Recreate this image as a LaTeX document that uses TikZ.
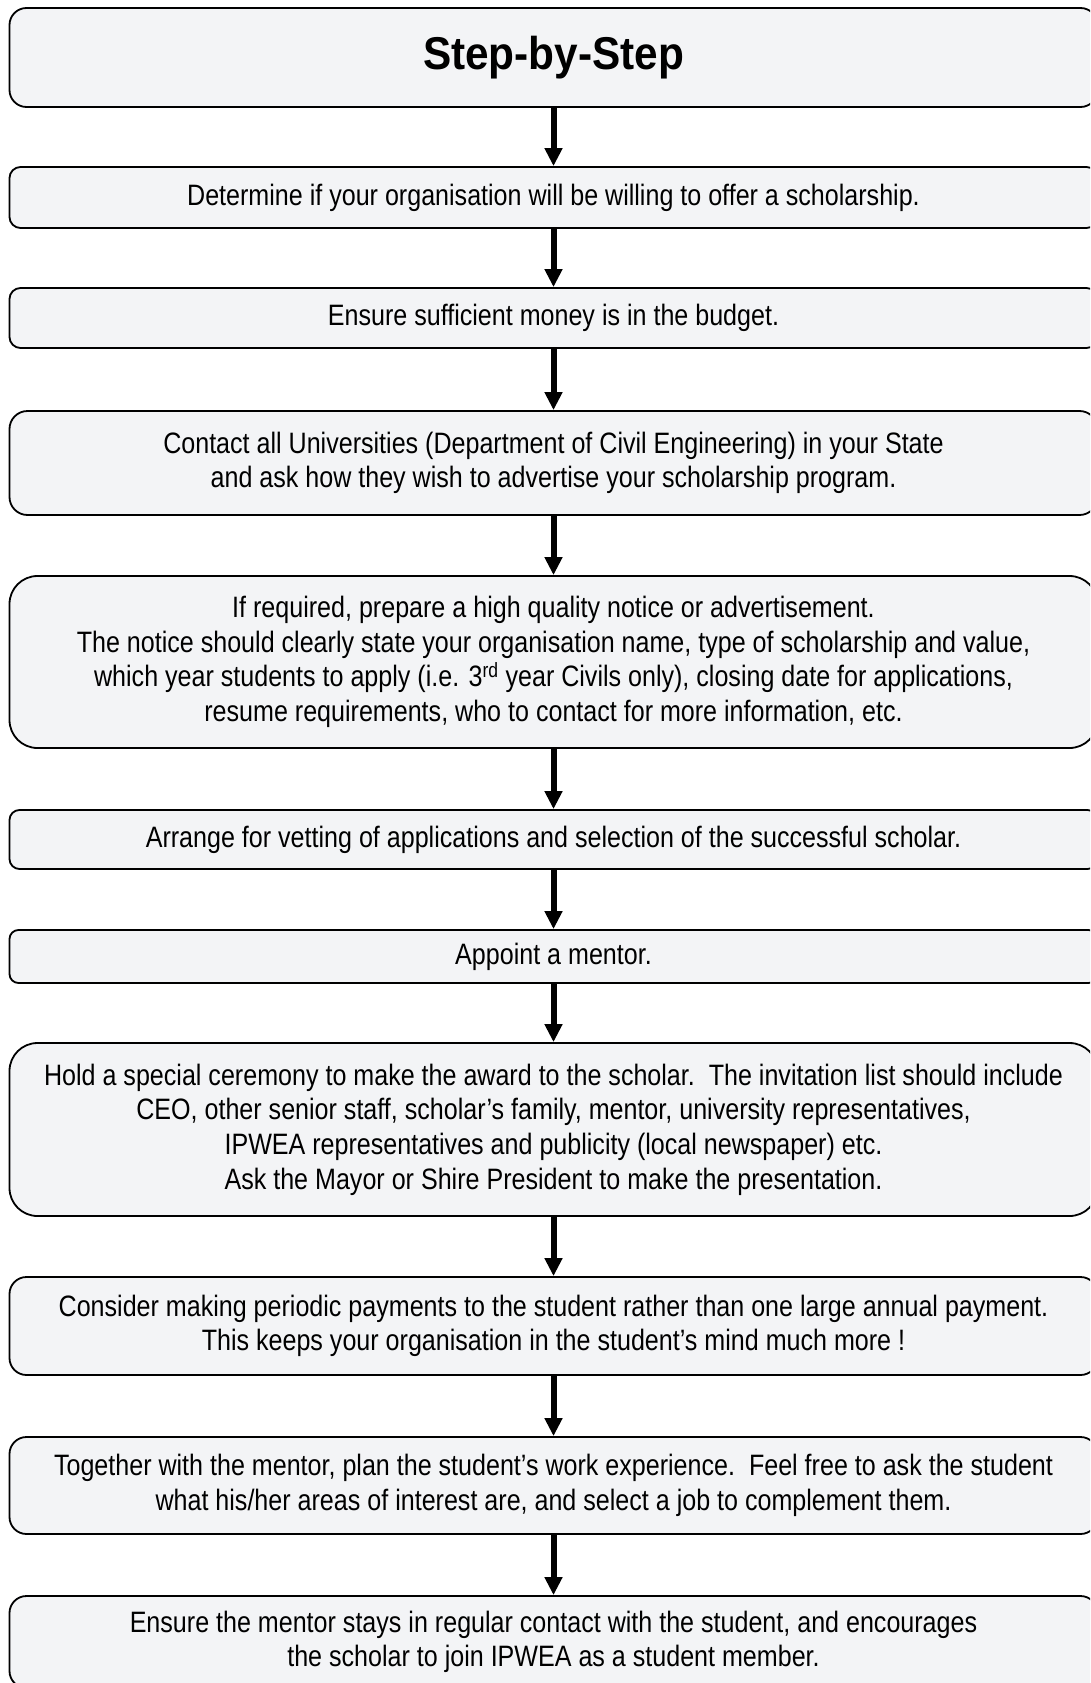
\documentclass[tikz,border=0pt]{standalone}
\usepackage{fontspec}
\setmainfont[FakeStretch=0.85]{Liberation Sans}
\newfontfamily\titlefont[FakeStretch=0.92]{Liberation Sans}
\usetikzlibrary{arrows.meta}
\definecolor{boxfill}{RGB}{243,244,246}
\tikzset{
  stepbox/.style={draw=black, line width=1.8pt, fill=boxfill, align=center,
    inner sep=0pt, minimum width=1088pt,
    font=\fontsize{29.5}{34.7}\selectfont},
  flowarrow/.style={line width=6pt, -{Triangle[length=18pt,width=17pt]}}
}
\begin{document}
\begin{tikzpicture}[x=1pt,y=-1pt]
\useasboundingbox (0,0) rectangle (1090,1683);
\clip (0,0) rectangle (1090,1683);
\node[stepbox, minimum height=99pt, rounded corners=17pt, font=\titlefont\bfseries\fontsize{46}{52}\selectfont] (t) at (553.5,57.5) {Step-by-Step};
\node[stepbox, minimum height=61pt, rounded corners=11pt] (b1) at (553.5,197.5) {Determine if your organisation will be willing to offer a scholarship.};
\node[stepbox, minimum height=60pt, rounded corners=11pt] (b2) at (553.5,318) {Ensure sufficient money is in the budget.};
\node[stepbox, minimum height=104pt, rounded corners=18pt] (b3) at (553.5,463) {Contact all Universities (Department of Civil Engineering) in your State\\and ask how they wish to advertise your scholarship program.};
\node[stepbox, minimum height=172pt, rounded corners=28pt] (b4) at (553.5,662) {If required, prepare a high quality notice or advertisement.\\The notice should clearly state your organisation name, type of scholarship and value,\\which year students to apply (i.e. 3\textsuperscript{rd} year Civils only), closing date for applications,\\resume requirements, who to contact for more information, etc.};
\node[stepbox, minimum height=59pt, rounded corners=10pt] (b5) at (553.5,839.5) {Arrange for vetting of applications and selection of the successful scholar.};
\node[stepbox, minimum height=53pt, rounded corners=9pt] (b6) at (553.5,956.5) {Appoint a mentor.};
\node[stepbox, minimum height=173pt, rounded corners=28pt] (b7) at (553.5,1129.5) {Hold a special ceremony to make the award to the scholar.\ \ The invitation list should include\\CEO, other senior staff, scholar’s family, mentor, university representatives,\\IPWEA representatives and publicity (local newspaper) etc.\\Ask the Mayor or Shire President to make the presentation.};
\node[stepbox, minimum height=98pt, rounded corners=17pt] (b8) at (553.5,1326) {Consider making periodic payments to the student rather than one large annual payment.\\This keeps your organisation in the student’s mind much more !};
\node[stepbox, minimum height=97pt, rounded corners=17pt] (b9) at (553.5,1485.5) {Together with the mentor, plan the student’s work experience.\ \ Feel free to ask the student\\what his/her areas of interest are, and select a job to complement them.};
\node[stepbox, minimum height=92pt, rounded corners=17pt] (b10) at (553.5,1642) {Ensure the mentor stays in regular contact with the student, and encourages\\the scholar to join IPWEA as a student member.};
\draw[flowarrow] (t.south) -- (b1.north);
\draw[flowarrow] (b1.south) -- (b2.north);
\draw[flowarrow] (b2.south) -- (b3.north);
\draw[flowarrow] (b3.south) -- (b4.north);
\draw[flowarrow] (b4.south) -- (b5.north);
\draw[flowarrow] (b5.south) -- (b6.north);
\draw[flowarrow] (b6.south) -- (b7.north);
\draw[flowarrow] (b7.south) -- (b8.north);
\draw[flowarrow] (b8.south) -- (b9.north);
\draw[flowarrow] (b9.south) -- (b10.north);
\end{tikzpicture}
\end{document}
